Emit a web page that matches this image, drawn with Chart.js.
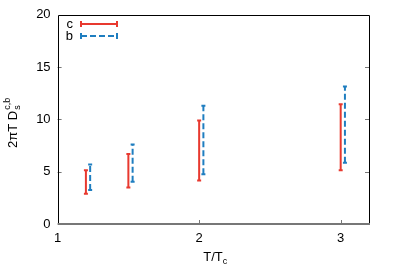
<!DOCTYPE html>
<html>
<head>
<meta charset="utf-8">
<script src="https://cdn.jsdelivr.net/npm/chart.js@4"></script>
<style>
  html, body { margin: 0; padding: 0; background: #fff; }
  #wrap { width: 400px; height: 280px; }
</style>
</head>
<body>
<div id="wrap"><canvas id="chart"></canvas></div>
<script>
// data
const cT = [1.2, 1.5, 2.0, 3.0];
const cLow = [2.9, 3.5, 4.15, 5.15];
const cHigh = [5.15, 6.7, 9.9, 11.45];
const bT = [1.23, 1.53, 2.03, 3.03];
const bLow = [3.25, 4.05, 4.75, 5.85];
const bHigh = [5.7, 7.6, 11.3, 13.15];
const xTicks = [1, 2, 3];
const yTicks = [0, 5, 10, 15, 20];

const RED = "#e8392f";
const BLUE = "#1f7ec0";
const FONT = "'Liberation Sans', Arial, sans-serif";

// one dataset per error bar
function bars(ts, lo, hi, color, dash) {
  return ts.map((t, i) => ({
    data: [{ x: t, y: lo[i] }, { x: t, y: hi[i] }],
    showLine: true,
    borderColor: color,
    borderWidth: 2,
    borderDash: dash,
    pointStyle: "line",
    pointRadius: 2,
    pointBorderWidth: 2,
    pointBorderColor: color
  }));
}

const datasets = bars(cT, cLow, cHigh, RED, []).concat(bars(bT, bLow, bHigh, BLUE, [6, 3]));

// frame, inward ticks, legend and axis titles
const decor = {
  id: "decor",
  afterDraw(chart) {
    const ctx = chart.ctx;
    const a = chart.chartArea;
    const xs = chart.scales.x, ys = chart.scales.y;
    ctx.save();

    // ticks
    ctx.strokeStyle = "#777";
    ctx.lineWidth = 1;
    yTicks.slice(1, -1).forEach(v => {
      const y = Math.round(ys.getPixelForValue(v)) + 0.5;
      ctx.beginPath();
      ctx.moveTo(a.left, y); ctx.lineTo(a.left + 4, y);
      ctx.moveTo(a.right, y); ctx.lineTo(a.right - 4, y);
      ctx.stroke();
    });
    xTicks.slice(1).forEach(v => {
      const x = Math.round(xs.getPixelForValue(v)) + 0.5;
      ctx.beginPath();
      ctx.moveTo(x, a.bottom); ctx.lineTo(x, a.bottom - 4);
      ctx.stroke();
    });

    // frame
    ctx.strokeStyle = "#000";
    ctx.lineWidth = 1;
    ctx.beginPath();
    ctx.moveTo(Math.round(a.left) + 0.5, a.bottom);
    ctx.lineTo(Math.round(a.left) + 0.5, Math.round(a.top) + 0.5);
    ctx.lineTo(Math.round(a.right) + 0.5, Math.round(a.top) + 0.5);
    ctx.lineTo(Math.round(a.right) + 0.5, a.bottom);
    ctx.stroke();
    ctx.strokeStyle = "#777";
    ctx.lineWidth = 2;
    ctx.beginPath();
    ctx.moveTo(a.left, Math.round(a.bottom));
    ctx.lineTo(a.right + 1, Math.round(a.bottom));
    ctx.stroke();

    // legend
    ctx.font = "13px " + FONT;
    ctx.fillStyle = "#000";
    ctx.textAlign = "right";
    ctx.textBaseline = "middle";
    const legend = [["c", RED, [], 24], ["b", BLUE, [6, 3], 36]];
    legend.forEach(([name, col, dash, y]) => {
      ctx.fillText(name, 73, y);
      ctx.strokeStyle = col;
      ctx.lineWidth = 2;
      ctx.setLineDash(dash);
      ctx.beginPath();
      ctx.moveTo(81, y); ctx.lineTo(117, y);
      ctx.stroke();
      ctx.setLineDash([]);
      ctx.beginPath();
      ctx.moveTo(81, y - 3); ctx.lineTo(81, y + 3);
      ctx.moveTo(117, y - 3); ctx.lineTo(117, y + 3);
      ctx.stroke();
    });

    // x title T/T_c
    ctx.textAlign = "left";
    ctx.textBaseline = "alphabetic";
    const main = "T/T";
    ctx.font = "9px " + FONT;
    const wSub = ctx.measureText("c").width;
    ctx.font = "13px " + FONT;
    const wMain = ctx.measureText(main).width;
    let x0 = (a.left + a.right) / 2 - (wMain + wSub) / 2 + 2;
    ctx.fillText(main, x0, 261);
    ctx.font = "9px " + FONT;
    ctx.fillText("c", x0 + wMain, 264);

    // y title 2πT D_s^{c,b}
    ctx.translate(17, (a.top + a.bottom) / 2 + 4);
    ctx.rotate(-Math.PI / 2);
    ctx.font = "13px " + FONT;
    const yMain = "2\u03c0T D";
    const wy = ctx.measureText(yMain).width;
    ctx.font = "9px " + FONT;
    const wSup = ctx.measureText("c,b").width;
    const sx = -(wy + wSup) / 2;
    ctx.font = "13px " + FONT;
    ctx.fillText(yMain, sx, 0);
    ctx.font = "9px " + FONT;
    ctx.fillText("s", sx + wy + 1, 3);
    ctx.fillText("c,b", sx + wy + 1, -7);

    ctx.restore();
  }
};

new Chart(document.getElementById("chart"), {
  type: "scatter",
  data: { datasets: datasets },
  options: {
    responsive: true,
    maintainAspectRatio: false,
    animation: false,
    layout: { padding: { left: 0, right: 31, top: 14, bottom: 0 } },
    plugins: { legend: { display: false }, tooltip: { enabled: false } },
    scales: {
      x: {
        type: "linear",
        min: 1,
        max: 3.2,
        afterBuildTicks: s => { s.ticks = xTicks.map(v => ({ value: v })); },
        afterFit: s => { s.height = 56; },
        grid: { display: false, drawTicks: false },
        border: { display: false },
        ticks: { color: "#000", font: { family: FONT, size: 13 }, padding: 7, maxRotation: 0 }
      },
      y: {
        type: "linear",
        min: 0,
        max: 20,
        afterBuildTicks: s => { s.ticks = yTicks.map(v => ({ value: v })); },
        afterFit: s => { s.width = 57.6; },
        grid: { display: false, drawTicks: false },
        border: { display: false },
        ticks: { color: "#000", font: { family: FONT, size: 13 }, padding: 7 }
      }
    }
  },
  plugins: [decor]
});
</script>
</body>
</html>
